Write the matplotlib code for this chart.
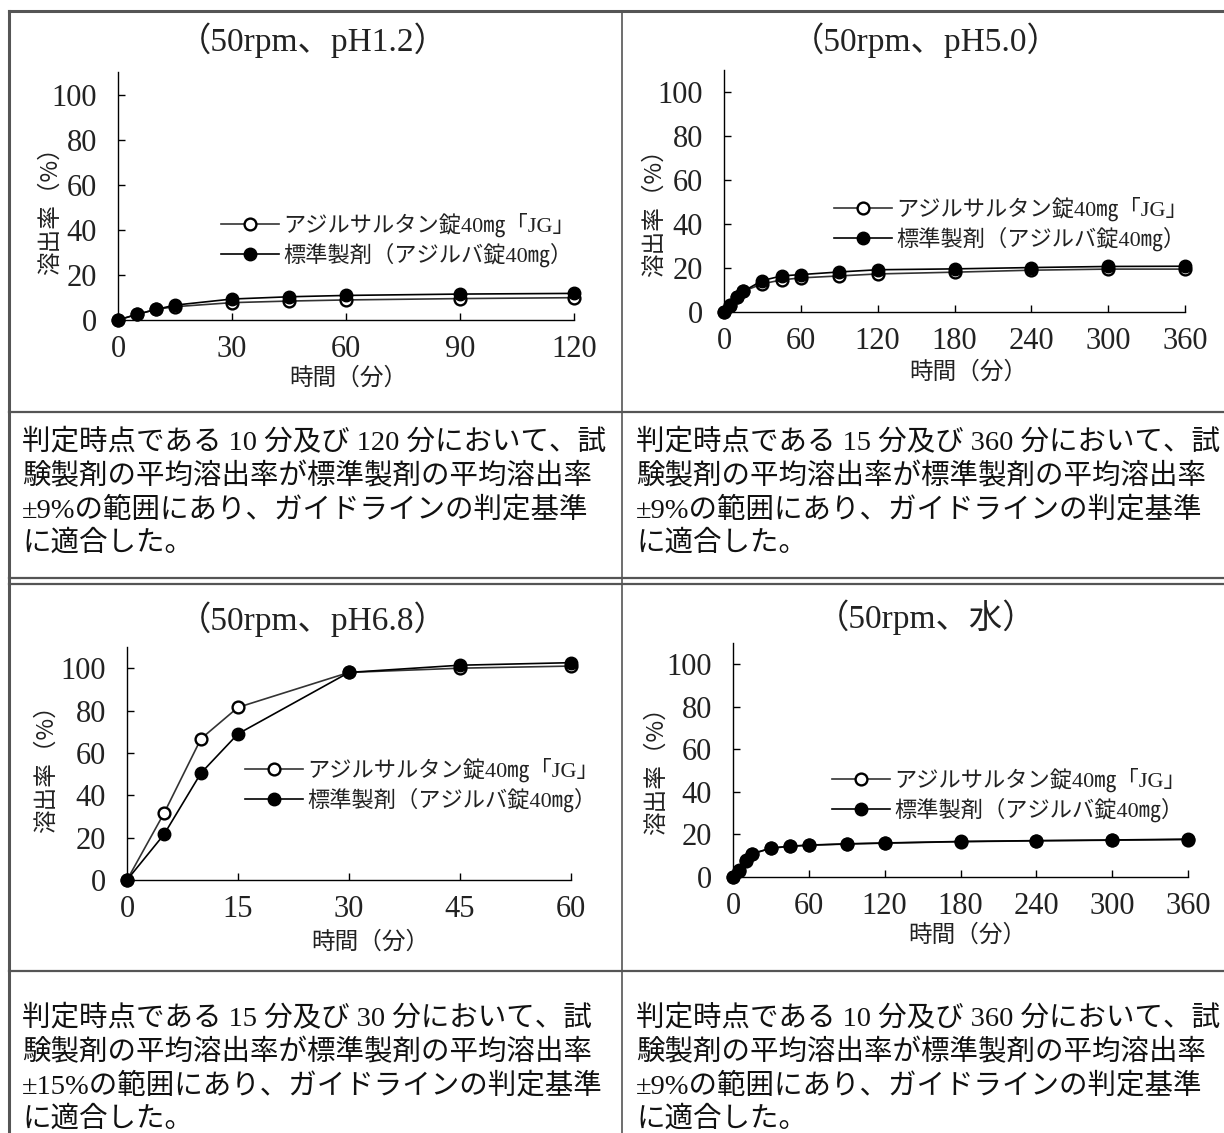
import numpy as np
import matplotlib.pyplot as plt
from matplotlib.lines import Line2D

W, H = 1224, 1133

# data
t_a = [0, 5, 10, 15, 30, 45, 60, 90, 120]
ph12_test = [0, 2.5, 4.7, 5.9, 7.7, 8.4, 8.9, 9.5, 9.9]
ph12_ref = [0, 2.5, 4.7, 6.6, 9.3, 10.3, 10.9, 11.5, 11.8]

t_b = [0, 5, 10, 15, 30, 45, 60, 90, 120, 180, 240, 300, 360]
ph50_test = [0, 3.0, 7.0, 9.4, 12.8, 14.6, 15.5, 16.4, 17.3, 18.1, 19.0, 19.5, 19.5]
ph50_ref = [0, 2.6, 7.0, 9.4, 14.3, 16.4, 17.0, 18.2, 19.2, 19.6, 20.2, 20.7, 20.8]

t_c = [0, 5, 10, 15, 30, 45, 60]
ph68_test = [0, 31.5, 66.7, 81.5, 98.0, 100.0, 101.0]
ph68_ref = [0, 21.5, 50.5, 69.0, 98.0, 101.4, 102.6]

water_test = [0, 3.0, 7.7, 10.8, 13.5, 14.4, 14.9, 15.5, 15.9, 16.6, 17.0, 17.3, 17.6]
water_ref = [0, 3.1, 7.8, 10.9, 13.6, 14.5, 15.0, 15.6, 16.0, 16.7, 17.1, 17.4, 17.8]

titles = ["（50rpm、pH1.2）", "（50rpm、pH5.0）", "（50rpm、pH6.8）", "（50rpm、水）"]
label_test = "アジルサルタン錠40㎎「JG」"
label_ref = "標準製剤（アジルバ錠40㎎）"

notes = [
    ["判定時点である 10 分及び 120 分において、試",
     "験製剤の平均溶出率が標準製剤の平均溶出率",
     "±9%の範囲にあり、ガイドラインの判定基準",
     "に適合した。"],
    ["判定時点である 15 分及び 360 分において、試",
     "験製剤の平均溶出率が標準製剤の平均溶出率",
     "±9%の範囲にあり、ガイドラインの判定基準",
     "に適合した。"],
    ["判定時点である 15 分及び 30 分において、試",
     "験製剤の平均溶出率が標準製剤の平均溶出率",
     "±15%の範囲にあり、ガイドラインの判定基準",
     "に適合した。"],
    ["判定時点である 10 分及び 360 分において、試",
     "験製剤の平均溶出率が標準製剤の平均溶出率",
     "±9%の範囲にあり、ガイドラインの判定基準",
     "に適合した。"],
]

SERIF_JP = ['Liberation Serif', 'Noto Sans CJK JP']
plt.rcParams['font.family'] = ['Noto Sans CJK JP', 'DejaVu Sans']


def fx(x):
    return x / W


def fy(y):
    return 1 - y / H


def px_box(left, top, right, bottom):
    return [left / W, 1 - bottom / H, (right - left) / W, (bottom - top) / H]


fig = plt.figure(figsize=(W / 100, H / 100), dpi=100)

# table frame
grid_col = '#555555'
def hline(y, x0=9, x1=W, lw=1.6):
    fig.add_artist(Line2D([fx(x0), fx(x1)], [fy(y), fy(y)], color=grid_col, lw=lw))

def vline(x, y0=11, y1=H, lw=1.6):
    fig.add_artist(Line2D([fx(x), fx(x)], [fy(y0), fy(y1)], color=grid_col, lw=lw))

hline(11, lw=2.2)
vline(9, lw=2.2)
vline(622, lw=1.2)
hline(412)
hline(578)
hline(584)
hline(971)

panels = [
    dict(box=(118, 72, 574, 320), t=t_a, test=ph12_test, ref=ph12_ref, xt=[0, 30, 60, 90, 120],
         title_xy=(313, 40), ylab_xy=(50, 205), xlab_xy=(348, 378), leg=(221, 213)),
    dict(box=(724, 70, 1185, 312), t=t_b, test=ph50_test, ref=ph50_ref, xt=[0, 60, 120, 180, 240, 300, 360],
         title_xy=(926, 40), ylab_xy=(654, 207), xlab_xy=(968, 372), leg=(834, 197)),
    dict(box=(127, 647, 571, 880), t=t_c, test=ph68_test, ref=ph68_ref, xt=[0, 15, 30, 45, 60],
         title_xy=(313, 619), ylab_xy=(46, 763), xlab_xy=(370, 942), leg=(245, 758)),
    dict(box=(733, 643, 1188, 877), t=t_b, test=water_test, ref=water_ref, xt=[0, 60, 120, 180, 240, 300, 360],
         title_xy=(926, 617), ylab_xy=(656, 765), xlab_xy=(967, 935), leg=(832, 768)),
]

for i, p in enumerate(panels):
    ax = fig.add_axes(px_box(*p['box']))
    ax.plot(p['t'], p['test'], color='#333333', lw=1.2, marker='o', ms=8.5,
            mfc='white', mec='black', mew=1.7, clip_on=False, label=label_test, zorder=3)
    ax.plot(p['t'], p['ref'], color='black', lw=1.2, marker='o', ms=9,
            mfc='black', mec='black', clip_on=False, label=label_ref, zorder=4)
    ax.set_xlim(0, p['xt'][-1])
    ax.set_ylim(0, 110)
    ax.set_xticks(p['xt'])
    ax.set_yticks([0, 20, 40, 60, 80, 100])
    for s in ['top', 'right']:
        ax.spines[s].set_visible(False)
    for s in ['left', 'bottom']:
        ax.spines[s].set_linewidth(1.0)
    ax.tick_params(direction='in', length=5, width=1.0, labelsize=22)
    ax.tick_params(axis='y', pad=15)
    ax.tick_params(axis='x', pad=11)
    for lab in ax.get_xticklabels() + ax.get_yticklabels():
        lab.set_family('Liberation Serif')
        lab.set_color('#222222')

    fig.text(fx(p['title_xy'][0]), fy(p['title_xy'][1]), titles[i], family=SERIF_JP,
             fontsize=24, ha='center', va='center', color='#222222')
    fig.text(fx(p['ylab_xy'][0]), fy(p['ylab_xy'][1]), "溶出率（%）", fontsize=17,
             rotation=90, ha='center', va='center', color='#222222')
    fig.text(fx(p['xlab_xy'][0]), fy(p['xlab_xy'][1]), "時間（分）", fontsize=17,
             ha='center', va='center', color='#222222')
    leg = ax.legend(loc='upper left', bbox_to_anchor=(fx(p['leg'][0]), fy(p['leg'][1])),
                    bbox_transform=fig.transFigure, frameon=False, borderpad=0,
                    borderaxespad=0, handlelength=2.6, handletextpad=0.2,
                    labelspacing=0.25, prop={'family': SERIF_JP, 'size': 16})
    for txt in leg.get_texts():
        txt.set_color('#222222')

# notes under each chart
note_pos = [(22, 443), (636, 443), (22, 1019), (636, 1019)]
for (x, y), lines in zip(note_pos, notes):
    for k, line in enumerate(lines):
        fig.text(fx(x), fy(y + 33.5 * k), line, family=SERIF_JP, fontsize=20.5,
                 ha='left', va='center', color='#111111')

fig.savefig('out.png', dpi=100)
plt.close(fig)
